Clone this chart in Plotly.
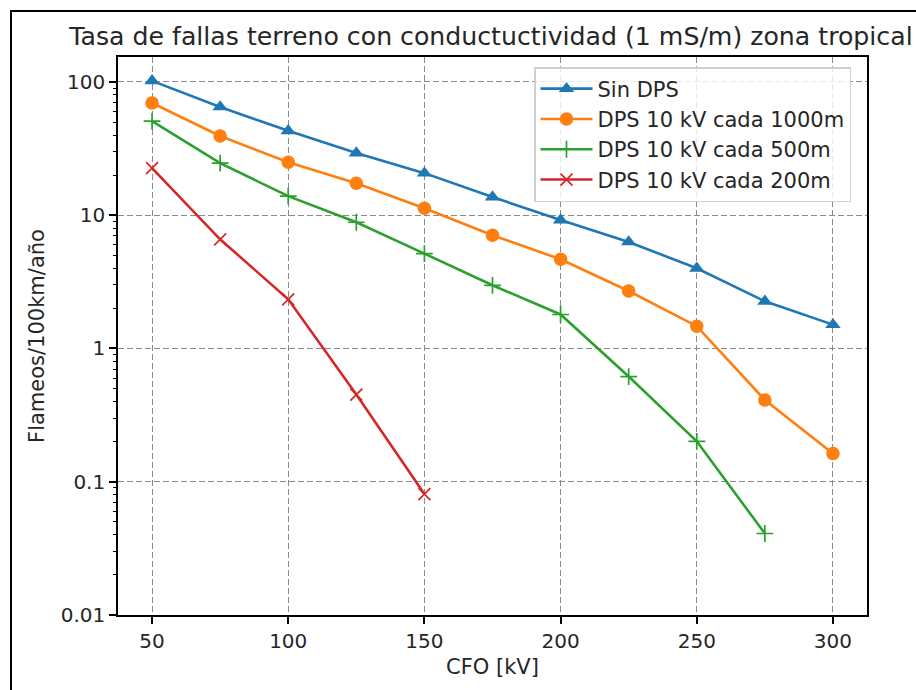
import plotly.graph_objects as go

cfo = [50, 75, 100, 125, 150, 175, 200, 225, 250, 275, 300]
sin_dps = [102, 65, 43, 29.3, 20.7, 13.7, 9.2, 6.3, 4.0, 2.26, 1.51]
dps_1000 = [69.5, 39.3, 25.0, 17.4, 11.3, 7.08, 4.67, 2.70, 1.47, 0.411, 0.163]
dps_500 = [50.9, 24.6, 13.9, 8.86, 5.15, 2.98, 1.80, 0.616, 0.201, 0.0409]
dps_200 = [22.6, 6.6, 2.34, 0.451, 0.0808]

names = ["Sin DPS", "DPS 10 kV cada 1000m", "DPS 10 kV cada 500m", "DPS 10 kV cada 200m"]
colors = ["#1f77b4", "#ff7f0e", "#2ca02c", "#d62728"]
symbols = ["triangle-up", "circle", "cross-thin", "x-thin"]
series = [sin_dps, dps_1000, dps_500, dps_200]

major_vals = [0.01, 0.1, 1, 10, 100]
major_text = ["0.01", "0.1", "1", "10", "100"]
minor_vals = [m * 10 ** e for e in range(-2, 3) for m in range(2, 10)]

W, H = 916, 690
L, R, T, B = 118, 49, 57, 75

fig = go.Figure()
for name, col, sym, ys in zip(names, colors, symbols, series):
    thin = sym in ("cross-thin", "x-thin")
    fig.add_trace(go.Scatter(
        x=cfo[:len(ys)], y=ys, name=name, mode="lines+markers",
        line=dict(color=col, width=2.6),
        marker=dict(symbol=sym, size=13.5 if not thin else 12, color=col,
                    line=dict(color=col, width=1.7 if thin else 0)),
    ))

# invisible trace for minor-tick overlay axis
fig.add_trace(go.Scatter(x=[cfo[0]], y=[sin_dps[0]], yaxis="y2", mode="markers",
                         marker=dict(opacity=0), showlegend=False, hoverinfo="skip"))

fam = "DejaVu Sans"
tick_font = dict(family=fam, size=20, color="#262626")

fig.update_layout(
    width=W, height=H,
    margin=dict(l=L, r=R, t=T, b=B, pad=0),
    paper_bgcolor="white", plot_bgcolor="white",
    title=dict(text="Tasa de fallas terreno con conductuctividad (1 mS/m) zona tropical",
               x=491 / W, xanchor="center", y=1 - 36 / H, yanchor="middle",
               font=dict(family=fam, size=25.2, color="#262626")),
    xaxis=dict(range=[37.5, 312.5], tickvals=[50, 100, 150, 200, 250, 300],
               ticks="outside", ticklen=7, tickwidth=1.6, tickcolor="black",
               showline=True, linecolor="black", linewidth=1.6, mirror=True,
               showgrid=True, gridcolor="#8a8a8a", griddash="6px,3px", gridwidth=1.3,
               zeroline=False, tickfont=tick_font,
               title=dict(text="CFO [kV]", font=dict(family=fam, size=21, color="#262626"), standoff=8)),
    yaxis=dict(type="log", range=[-2, 2.1875], tickvals=major_vals, ticktext=major_text,
               ticks="outside", ticklen=7, tickwidth=1.6, tickcolor="black",
               showline=True, linecolor="black", linewidth=1.6, mirror=True,
               showgrid=True, gridcolor="#8a8a8a", griddash="6px,3px", gridwidth=1.3,
               zeroline=False, tickfont=tick_font,
               title=dict(text="Flameos/100km/año", font=dict(family=fam, size=21, color="#262626"), standoff=10)),
    yaxis2=dict(type="log", range=[-2, 2.1875], overlaying="y", side="left",
                tickvals=minor_vals, ticktext=[""] * len(minor_vals),
                ticks="outside", ticklen=4, tickwidth=1.2, tickcolor="black",
                showgrid=False, showline=False, zeroline=False),
    legend=dict(x=(534 - L) / (W - L - R), y=1 - (67 - T) / (H - T - B),
                xanchor="left", yanchor="top",
                bgcolor="rgba(255,255,255,0.8)", bordercolor="#d0d0d0", borderwidth=1.5,
                font=dict(family=fam, size=21, color="#262626"),
                itemwidth=52, tracegroupgap=0),
    showlegend=True,
)

# outer figure frame (left and top edges visible in the crop)
fig.add_shape(type="rect", xref="paper", yref="paper",
              x0=(11 - L) / (W - L - R), x1=(W + 20 - L) / (W - L - R),
              y0=1 + (T - (H + 20)) / (H - T - B), y1=1 + (T - 11) / (H - T - B),
              line=dict(color="black", width=2), layer="below")

fig.write_html("out.html")
